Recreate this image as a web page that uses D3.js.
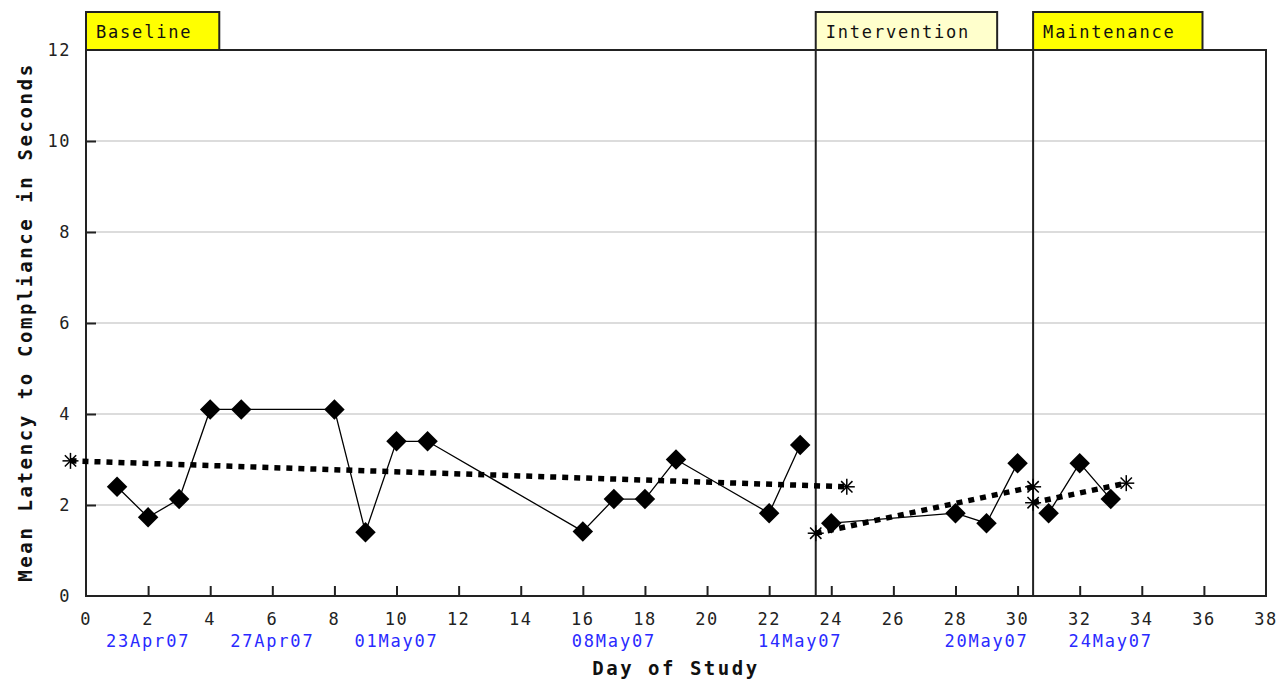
<!DOCTYPE html>
<html><head><meta charset="utf-8">
<script src="https://cdn.jsdelivr.net/npm/d3@7"></script>
<style>body{margin:0;background:#fff}</style>
</head><body><svg id="c" width="1288" height="680"></svg>
<script>
const baselineDays=[1,2,3,4,5,8,9,10,11,16,17,18,19,22,23];
const baselineValues=[2.4,1.73,2.13,4.1,4.1,4.1,1.4,3.4,3.4,1.42,2.13,2.13,3.0,1.82,3.32];
const interventionDays=[24,28,29,30];
const interventionValues=[1.6,1.82,1.6,2.92];
const maintenanceDays=[31,32,33];
const maintenanceValues=[1.82,2.92,2.13];
const phaseNames=["Baseline","Intervention","Maintenance"];
const phaseStarts=[0,23.5,30.5];
const phaseFills=["#ffff00","#ffffcc","#ffff00"];
const trendStartX=[-0.5,23.5,30.5];
const trendEndX=[24.5,30.5,33.5];
const trendStartY=[2.97,1.38,2.05];
const trendEndY=[2.40,2.40,2.48];
const xTicks=d3.range(0,39,2);
const yTicks=[0,2,4,6,8,10,12];
const dateDays=[2,6,10,17,23,29,33];
const dateLabels=["23Apr07","27Apr07","01May07","08May07","14May07","20May07","24May07"];
const xTitle="Day of Study";
const yTitle="Mean Latency to Compliance in Seconds";

const svg=d3.select("#c");
const x=d3.scaleLinear().domain([0,38]).range([86,1266]);
const y=d3.scaleLinear().domain([0,12]).range([596,50]);
const FONT="'DejaVu Sans Mono', monospace";

// grid
svg.append("g").selectAll("line").data(yTicks.filter(v=>v>0&&v<12)).join("line")
  .attr("x1",x(0)).attr("x2",x(38)).attr("y1",d=>y(d)).attr("y2",d=>y(d))
  .attr("stroke","#dcdcdc").attr("stroke-width",2);

// axes with inward ticks
const xAxis=d3.axisBottom(x).tickValues(xTicks.filter(v=>v>0&&v<38)).tickSize(-10).tickFormat("");
const gx=svg.append("g").attr("transform",`translate(0,${y(0)})`).call(xAxis);
gx.select(".domain").remove();
gx.selectAll("line").attr("stroke","#222").attr("stroke-width",2);
const yAxis=d3.axisLeft(y).tickValues(yTicks.filter(v=>v>0&&v<12)).tickSize(-10).tickFormat("");
const gy=svg.append("g").attr("transform",`translate(${x(0)},0)`).call(yAxis);
gy.select(".domain").remove();
gy.selectAll("line").attr("stroke","#222").attr("stroke-width",2);

// frame
svg.append("rect").attr("x",x(0)).attr("y",y(12)).attr("width",x(38)-x(0)).attr("height",y(0)-y(12))
  .attr("fill","none").attr("stroke","#222").attr("stroke-width",2);

// tick labels
svg.append("g").selectAll("text").data(xTicks).join("text")
  .attr("x",d=>x(d)).attr("y",625).attr("text-anchor","middle")
  .attr("font-family",FONT).attr("font-size",17).attr("letter-spacing",1.5).attr("fill","#222")
  .text(d=>d);
svg.append("g").selectAll("text").data(yTicks).join("text")
  .attr("x",71).attr("y",d=>y(d)).attr("dy","0.36em").attr("text-anchor","end")
  .attr("font-family",FONT).attr("font-size",17).attr("letter-spacing",1.5).attr("fill","#222")
  .text(d=>d);
svg.append("g").selectAll("text").data(dateDays).join("text")
  .attr("x",d=>x(d)).attr("y",647).attr("text-anchor","middle")
  .attr("font-family",FONT).attr("font-size",17).attr("letter-spacing",1.8).attr("fill","#2a2aff")
  .text((d,i)=>dateLabels[i]);

// titles
svg.append("text").attr("x",676).attr("y",675).attr("text-anchor","middle")
  .attr("font-family",FONT).attr("font-size",19).attr("font-weight","bold").attr("letter-spacing",2.5)
  .attr("fill","#111").text(xTitle);
svg.append("text").attr("transform","translate(25,322) rotate(-90)").attr("dy","0.36em").attr("text-anchor","middle")
  .attr("font-family",FONT).attr("font-size",19).attr("font-weight","bold").attr("letter-spacing",2.6)
  .attr("fill","#111").text(yTitle);

// phase lines
svg.append("g").selectAll("line").data(phaseStarts.filter(v=>v>0)).join("line")
  .attr("x1",d=>x(d)).attr("x2",d=>x(d)).attr("y1",y(12)).attr("y2",y(0))
  .attr("stroke","#222").attr("stroke-width",2);

// phase boxes
const pb=svg.append("g").selectAll("g").data(phaseNames).join("g")
  .attr("transform",(d,i)=>`translate(${x(phaseStarts[i])},12)`);
const rects=pb.append("rect").attr("height",y(12)-12).attr("fill",(d,i)=>phaseFills[i])
  .attr("stroke","#222").attr("stroke-width",2);
const labels=pb.append("text").attr("x",10).attr("y",26)
  .attr("font-family",FONT).attr("font-size",17).attr("letter-spacing",1.8).attr("fill","#111")
  .text(d=>d);
labels.each(function(d,i){
  const w=this.getComputedTextLength();
  d3.select(rects.nodes()[i]).attr("width",w+37);
});

// trend lines
const trends=phaseNames.map((n,i)=>[[trendStartX[i],trendStartY[i]],[trendEndX[i],trendEndY[i]]]);
svg.append("g").selectAll("line").data(trends).join("line")
  .attr("x1",d=>x(d[0][0])).attr("y1",d=>y(d[0][1])).attr("x2",d=>x(d[1][0])).attr("y2",d=>y(d[1][1]))
  .attr("stroke","#000").attr("stroke-width",5.5).attr("stroke-dasharray","6,6")
  .attr("stroke-dashoffset",-12);
const starPts=trends.flat();
const sg=svg.append("g").selectAll("g").data(starPts).join("g")
  .attr("transform",d=>`translate(${x(d[0])},${y(d[1])})`);
[0,45,90,135].forEach(a=>{
  sg.append("line").attr("x1",-8).attr("x2",8).attr("y1",0).attr("y2",0)
    .attr("transform",`rotate(${a})`).attr("stroke","#000").attr("stroke-width",1.5);
});

// data lines and diamonds
const series=[[baselineDays,baselineValues],[interventionDays,interventionValues],[maintenanceDays,maintenanceValues]]
  .map(([ds,vs])=>ds.map((d,i)=>[d,vs[i]]));
const line=d3.line().x(d=>x(d[0])).y(d=>y(d[1]));
svg.append("g").selectAll("path").data(series).join("path")
  .attr("d",line).attr("fill","none").attr("stroke","#000").attr("stroke-width",1.3);
const diamond=d3.symbol().type(d3.symbolSquare).size(210);
svg.append("g").selectAll("path").data(series.flat()).join("path")
  .attr("d",diamond).attr("transform",d=>`translate(${x(d[0])},${y(d[1])}) rotate(45)`)
  .attr("fill","#000");
</script></body></html>
